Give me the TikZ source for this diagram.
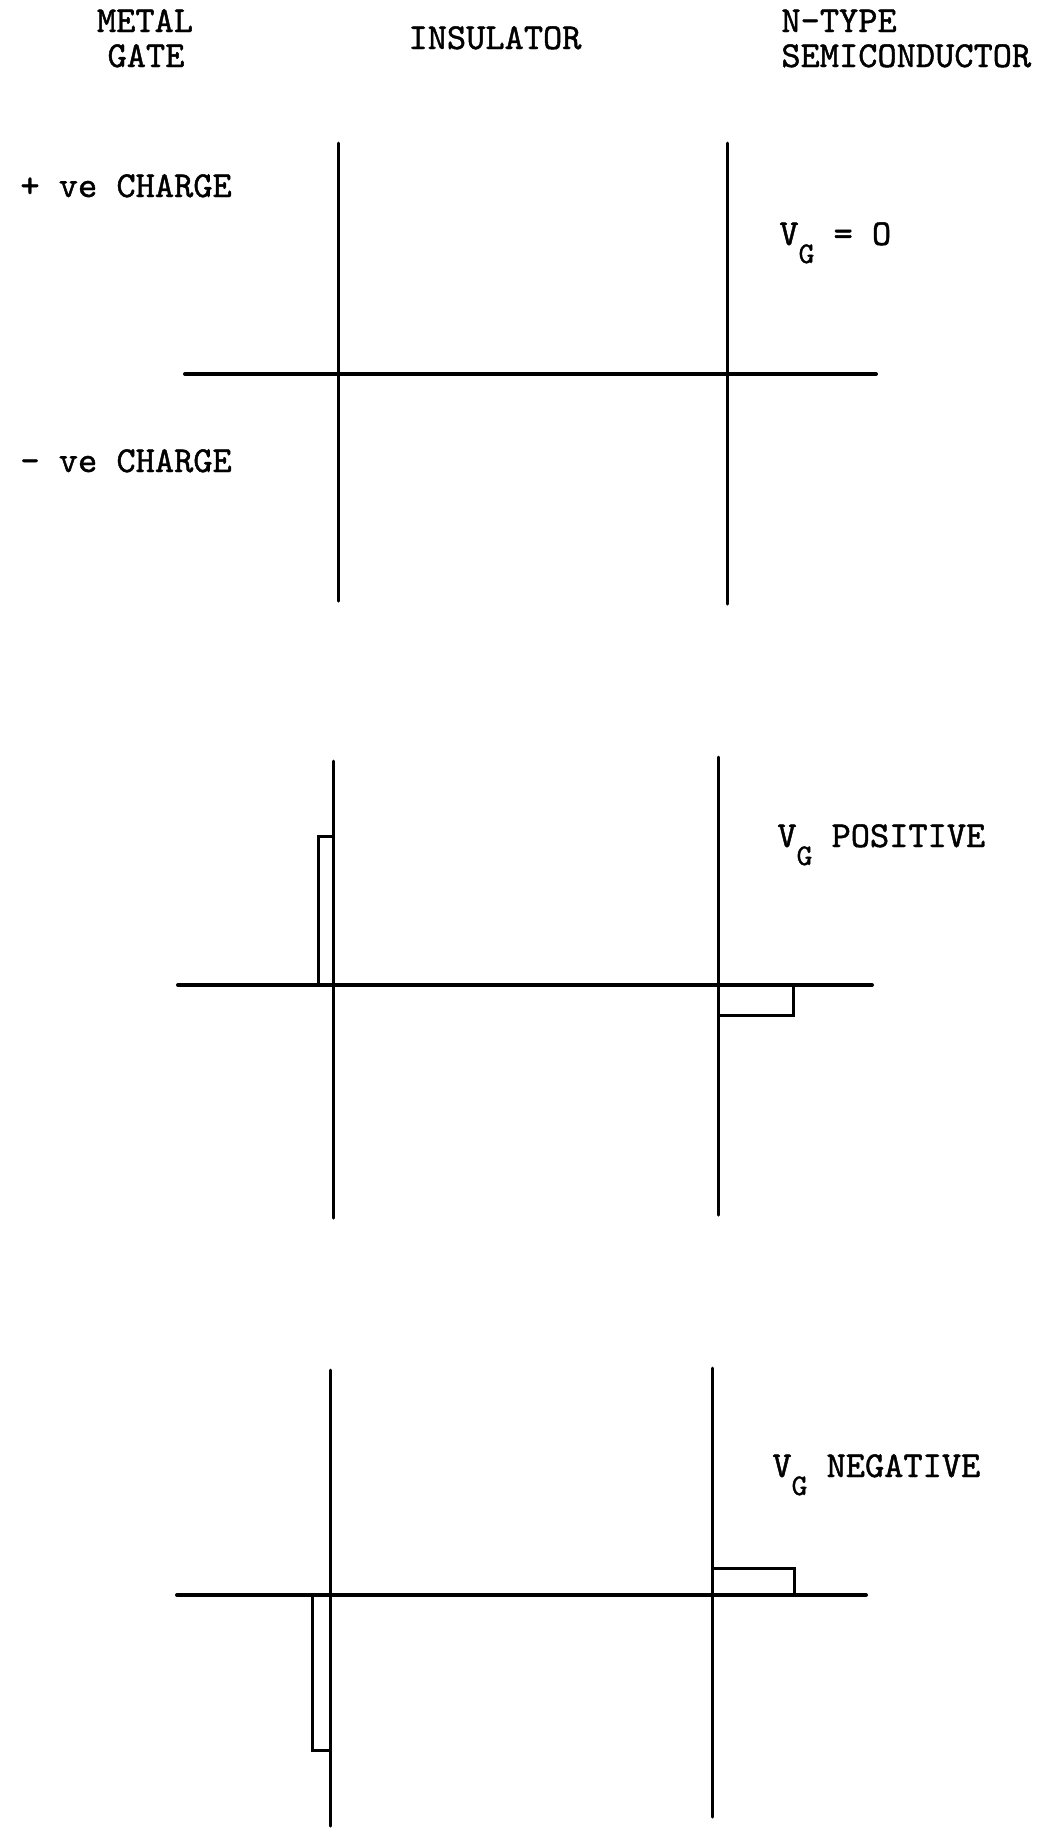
\documentclass[tikz,border=0pt]{standalone}
\usepackage{fontspec}
\setmainfont{lmmono10-regular}[Extension=.otf, FakeBold=1.2]
\usetikzlibrary{positioning}
\newcommand{\vsub}{V\raisebox{-9pt}{\fontsize{15}{15}\selectfont G}}

\begin{document}
\begin{tikzpicture}[
  x=0.5pt, y=-0.5pt,
  every node/.style={font=\fontsize{18.3}{20}\selectfont, inner sep=0pt},
  head/.style   = {anchor=base},
  lbl/.style    = {anchor=base west},
  axisline/.style = {line width=2pt, line cap=round},
  wall/.style   = {line width=1.5pt, line cap=round},
  charge/.style = {line width=1.5pt},
]
  \useasboundingbox (0,0) rectangle (1053,1832);
  % column headings
  \node[head] (metal) at (145,32)  {METAL};
  \node[head] (gate)  at (146,67)  {GATE};
  \node[head] (ins)   at (495,49)  {INSULATOR};
  \node[lbl]  (ntype) at (781,32)  {N-TYPE};
  \node[lbl]  (semi)  at (781,67)  {SEMICONDUCTOR};
  \node[lbl]  (pos)   at (20,197)  {+ ve CHARGE};
  \node[lbl]  (neg)   at (20,472)  {- ve CHARGE};

  % V_G = 0
  \coordinate (a1w) at (185,374);  \coordinate (a1e) at (876,374);
  \draw[axisline] (a1w) -- (a1e);
  \draw[wall] (338,143) -- (338,601);
  \draw[wall] (727,143) -- (727,604);
  \node[lbl] (vg1) at (779,245) {\vsub{} = O};

  % V_G positive
  \coordinate (a2w) at (178,985);  \coordinate (a2e) at (872,985);
  \draw[axisline] (a2w) -- (a2e);
  \draw[wall] (333,761) -- (333,1218);
  \draw[wall] (718,757) -- (718,1215);
  \draw[charge] (318,836) rectangle (333,985);
  \draw[charge] (718,985) rectangle (793,1015);
  \node[lbl] (vg2) at (777,847) {\vsub{} POSITIVE};

  % V_G negative
  \coordinate (a3w) at (177,1595); \coordinate (a3e) at (866,1595);
  \draw[axisline] (a3w) -- (a3e);
  \draw[wall] (330,1370) -- (330,1826);
  \draw[wall] (712,1368) -- (712,1817);
  \draw[charge] (312,1595) rectangle (330,1750);
  \draw[charge] (712,1568) rectangle (794,1595);
  \node[lbl] (vg3) at (772,1477) {\vsub{} NEGATIVE};
\end{tikzpicture}
\end{document}
